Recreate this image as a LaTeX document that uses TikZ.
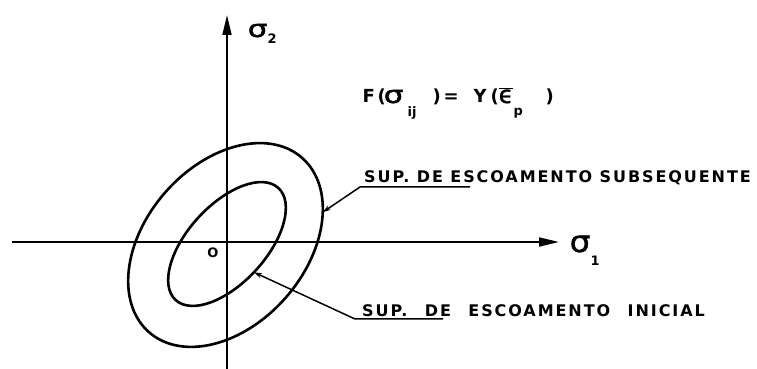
\documentclass[tikz,border=0pt]{standalone}
\usepackage{fontspec}
\setmainfont{DejaVu Sans}
\newfontfamily\lblfam[LetterSpace=12]{DejaVu Sans Bold}
\newfontfamily\frmfam{DejaVu Sans Bold}
\newfontfamily\grkfam[FakeBold=1.2]{DejaVu Sans}
\usetikzlibrary{arrows.meta}
\newcommand\lblfont{\lblfam\fontsize{16}{16}\selectfont}
\newcommand\frmfont{\frmfam\fontsize{18}{18}\selectfont}
\newcommand\sigfont{\grkfam\fontsize{24}{24}\selectfont}
\newcommand\subfnt{\frmfam\fontsize{13}{13}\selectfont}
\newcommand\wsig{\scalebox{1.3}[1]{σ}}
\newcommand\putat[2]{\makebox[0pt][l]{\hspace{#1pt}#2}}
\begin{document}
\begin{tikzpicture}[x=1pt,y=1pt,
  ax/.style={line width=1.8pt},
  curve/.style={line width=2.6pt},
  lead/.style={line width=1.5pt},
  axtip/.style={-{Triangle[length=20pt,width=9pt]}},
  ldtip/.style={-{Stealth[length=8pt,width=5pt]}},
  lbl/.style={font=\lblfont, inner sep=0pt, anchor=base west},
  sig/.style={font=\sigfont, inner sep=0pt, anchor=base west},
]
\useasboundingbox (0,0) rectangle (757,369);
% axes
\coordinate (xl) at (12,127);
\coordinate (xr) at (559,127);
\coordinate (yb) at (227,0);
\coordinate (yt) at (227,354);
\draw[ax,axtip] (xl) -- (xr);
\draw[ax,axtip] (yb) -- (yt);
\node[sig] (s2) at (247,332) {\putat{0}{\wsig}\putat{20}{\raisebox{-7pt}{\subfnt 2}}\hspace{30pt}};
\node[sig] (s1) at (569,117) {\putat{0}{\scalebox{1.05}[1.25]{\wsig}}\putat{21}{\raisebox{-14pt}{\subfnt 1}}\hspace{30pt}};
\node[font=\frmfam\fontsize{13}{13}\selectfont, inner sep=0pt] (O) at (213,116) {O};
% ellipses
\begin{scope}[shift={(225.5,124)},rotate=48.7]
  \draw[curve] (0,0) ellipse [x radius=116, y radius=80];
  \coordinate (otip) at (-40:116 and 80);
\end{scope}
\begin{scope}[shift={(227,125)},rotate=47.5]
  \draw[curve] (0,0) ellipse [x radius=76, y radius=39];
  \coordinate (itip) at (-92:76 and 39);
\end{scope}
% formula
\node[font=\frmfont, inner sep=0pt, anchor=base west] (f) at (362,266)
  {\putat{0}{F}\putat{15}{(}\putat{21}{{\sigfont\wsig}}\putat{45}{\raisebox{-14pt}{\subfnt ij}}%
   \putat{70}{)}\putat{81}{=}\putat{111}{Y}\putat{128}{(}%
   \putat{136}{$\overline{\hbox{\sigfont ϵ}}$}\putat{151}{\raisebox{-13pt}{\subfnt p}}\putat{183}{)}\hspace{190pt}};
% leaders
\coordinate (ok) at (360,182);
\coordinate (oe) at (470,182);
\draw[lead,ldtip] (oe) -- (ok) -- (otip);
\coordinate (ik) at (355,50);
\coordinate (ie) at (443,50);
\draw[lead,ldtip] (ie) -- (ik) -- (itip);
% labels
\node[lbl] (lsub) at (364,186) {SUP. DE ESCOAMENTO SUBSEQUENTE};
\node[lbl] (lini) at (362,52) {SUP.\hspace{10pt} DE\hspace{10pt} ESCOAMENTO\hspace{10pt} INICIAL};
\end{tikzpicture}
\end{document}
